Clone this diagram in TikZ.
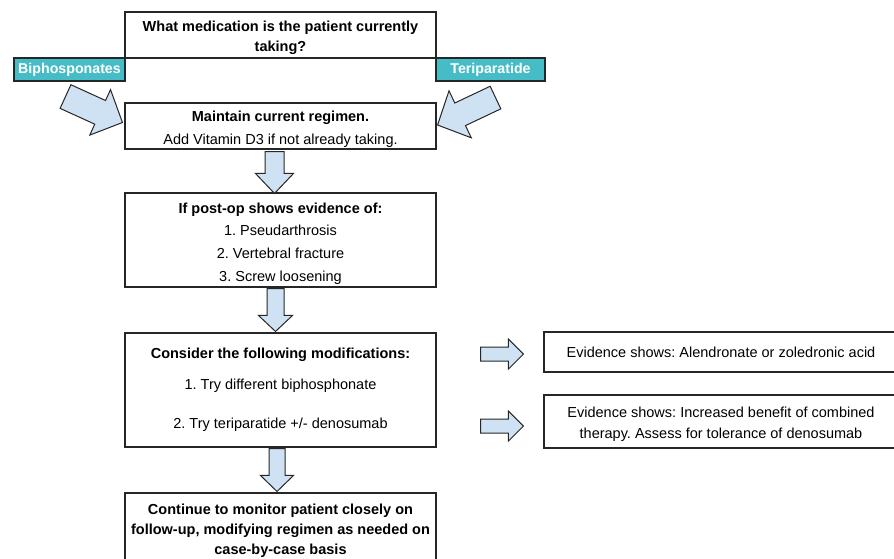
\documentclass[tikz,border=0pt]{standalone}
\usepackage{fontspec}
\setmainfont{Liberation Sans}
\usetikzlibrary{calc}

\definecolor{tealbox}{RGB}{70,189,198}
\definecolor{arrowblue}{RGB}{207,226,243}

% block arrow: from, to, shaft half width, head half width, head length
\newcommand{\fatarrow}[5]{%
  \coordinate (fa-h) at ($(#2)!#5!(#1)$);
  \draw[fat arrow] ($(#1)!#3!90:(#2)$) -- ($(fa-h)!#3!-90:(#1)$)
    -- ($(fa-h)!#4!-90:(#1)$) -- (#2) -- ($(fa-h)!#4!90:(#1)$)
    -- ($(fa-h)!#3!90:(#1)$) -- ($(#1)!#3!-90:(#2)$) -- cycle;
}

\begin{document}
\frenchspacing
\begin{tikzpicture}[
    x=1pt, y=-1pt,
    every node/.style={font=\fontsize{14.5}{20}\selectfont\frenchspacing, inner sep=0pt},
    box/.style={draw=black!85, line width=1.1pt, fill=white, align=center},
    txt/.style={align=center},
    tag/.style={draw=black!85, line width=1.1pt, fill=tealbox,
        text=white, font=\fontsize{14.2}{20}\selectfont\bfseries},
    fat arrow/.style={draw=black!85, fill=arrowblue, line width=1pt, line join=miter},
]
\useasboundingbox (0,0) rectangle (894,558);
\clip (0,0) rectangle (894,558);

% === Question and current medication ===
\node[box, minimum width=311pt, minimum height=46pt] (question) at (280.5,35) {};
\node[txt] (question-txt) at ($(question)+(0,3)$)
    {\bfseries What medication is the patient currently\\\bfseries taking?};
\node[tag, minimum width=111pt, minimum height=23pt] (bip) at (69.5,69.5) {Biphosponates};
\node[tag, minimum width=109pt, minimum height=23pt] (teri) at (490.5,69.5) {Teriparatide};

% === Main column ===
\node[box, minimum width=311pt, minimum height=46pt] (maintain) at (280.5,126) {};
\node[txt] (maintain-txt) at ($(maintain)+(0,3)$)
    {\textbf{Maintain current regimen.}\\[3pt]Add Vitamin D3 if not already taking.};
\node[box, minimum width=311pt, minimum height=94pt] (postop) at (280.5,240) {};
\node[txt] (postop-txt) at ($(postop)+(0,3.5)$)
    {\textbf{If post-op shows evidence of:}\\[2.7pt]1. Pseudarthrosis\\[2.7pt]
     2. Vertebral fracture\\[2.7pt]3. Screw loosening};
\node[box, minimum width=311pt, minimum height=114pt] (consider) at (280.5,390)
    {\textbf{Consider the following modifications:}\\[11pt]1. Try different biphosphonate\\[19pt]
     2. Try teriparatide +/- denosumab};
\node[box, minimum width=311pt, minimum height=72pt] (monitor) at (280.5,529) {};
\node[txt] (monitor-txt) at ($(monitor)+(0,1.5)$)
    {\bfseries Continue to monitor patient closely on\\\bfseries follow-up, modifying regimen as needed on\\
     \bfseries case-by-case basis};

% === Evidence boxes ===
\node[box, minimum width=354pt, minimum height=40pt] (ev1) at (721,352)
    {Evidence shows: Alendronate or zoledronic acid};
\node[box, minimum width=354pt, minimum height=53pt] (ev2) at (721,421.5) {};
\node[txt] (ev2-txt) at ($(ev2)+(0,3)$)
    {Evidence shows: Increased benefit of combined\\[1pt]therapy. Assess for tolerance of denosumab};

% === Block arrows ===
\coordinate (bip-tail) at ($(bip.south)+(-4,15)$);
\coordinate (bip-tip) at ($(maintain.west)+(-2,-3.5)$);
\coordinate (teri-tail) at ($(teri.south)+(5,16)$);
\coordinate (teri-tip) at ($(maintain.east)+(1,-1)$);
\fatarrow{bip-tail}{bip-tip}{13pt}{25pt}{24.5pt}
\fatarrow{teri-tail}{teri-tip}{12.5pt}{26pt}{25pt}

\coordinate (d1a) at ($(maintain.south)+(-6,2)$);
\coordinate (d1b) at ($(postop.north)+(-6,1)$);
\coordinate (d2a) at ($(postop.south)+(-5,1)$);
\coordinate (d2b) at ($(consider.north)+(-5,-1)$);
\coordinate (d3a) at ($(consider.south)+(-3.5,1)$);
\coordinate (d3b) at ($(monitor.north)+(-3.5,-1)$);
\fatarrow{d1a}{d1b}{9.5pt}{19pt}{20pt}
\fatarrow{d2a}{d2b}{8.5pt}{17pt}{16pt}
\fatarrow{d3a}{d3b}{8pt}{16.5pt}{16pt}

\coordinate (r1a) at ($(consider.east |- ev1.west)+(44,2)$);
\coordinate (r1b) at ($(ev1.west)+(-20,2)$);
\coordinate (r2a) at ($(consider.east |- ev2.west)+(44,4.5)$);
\coordinate (r2b) at ($(ev2.west)+(-20,4.5)$);
\fatarrow{r1a}{r1b}{7pt}{15pt}{15pt}
\fatarrow{r2a}{r2b}{7pt}{15pt}{15pt}

\end{tikzpicture}
\end{document}
